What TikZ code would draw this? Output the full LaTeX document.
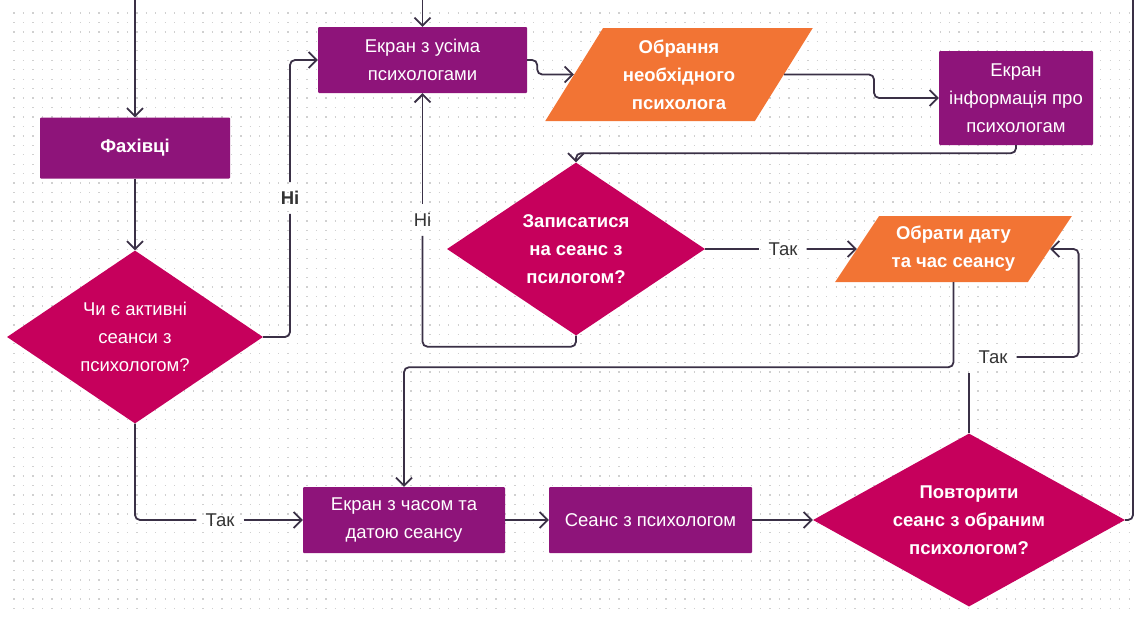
\documentclass[tikz,border=0pt]{standalone}
\usepackage{fontspec}
\setmainfont{Liberation Sans}
\usetikzlibrary{shapes.geometric,arrows.meta}
\definecolor{screen}{RGB}{142,20,122}
\definecolor{question}{RGB}{198,0,92}
\definecolor{choice}{RGB}{242,116,52}
\definecolor{wire}{RGB}{58,48,70}
\definecolor{dotgray}{RGB}{208,208,208}

\begin{document}
\begin{tikzpicture}[x=1pt,y=-1pt,
  txt/.style={font=\fontsize{18.5}{28}\selectfont},
  bold/.style={font=\fontsize{18.5}{28}\selectfont\bfseries},
  screenbox/.style={rectangle, fill=screen, text=white, align=center, inner sep=0pt, rounded corners=1pt, txt},
  qbox/.style={diamond, fill=question, text=white, align=center, inner sep=0pt, bold},
  choicebox/.style={trapezium, trapezium stretches=true, fill=choice, text=white, align=center, inner sep=0pt, bold},
  lbl/.style={inner sep=9pt, text=black!80, txt},
  wireline/.style={draw=wire, line width=1.8pt, rounded corners=5pt},
  arr/.style={wireline, -{Straight Barb[length=8pt,width=16pt]}}]
\useasboundingbox (0,0) rectangle (1135,616);

% dotted background
\foreach \y in {13,22.45,...,612}
\draw[dotgray, line width=1.3pt, dash pattern=on 1.3pt off 8.15pt] (13.4,\y) -- (1135,\y);

% nodes
\node[screenbox, bold, minimum width=190, minimum height=61] (fah) at (135,148) {Фахівці};
\node[qbox, aspect=1.47, minimum width=256, minimum height=173, txt] (d1) at (135,337) {Чи є активні\\сеанси з\\психологом?};
\node[screenbox, minimum width=209, minimum height=66] (ek1) at (422.5,60) {Екран з усіма\\психологами};
\node[choicebox, trapezium left angle=58.5, trapezium right angle=121.5, minimum width=268, minimum height=93] (obr1) at (679,74.5) {Обрання\\необхідного\\психолога};
\node[screenbox, minimum width=154, minimum height=94] (info) at (1016,98) {Екран\\інформація про\\психологам};
\node[qbox, aspect=1.49, minimum width=258, minimum height=173] (d2) at (576,249) {Записатися\\на сеанс з\\псилогом?};
\node[choicebox, trapezium left angle=51.2, trapezium right angle=128.8, minimum width=237, minimum height=66] (obr2) at (953.5,249) {Обрати дату\\та час сеансу};
\node[screenbox, minimum width=202, minimum height=66] (ek2) at (404,520) {Екран з часом та\\датою сеансу};
\node[screenbox, minimum width=203, minimum height=66] (ses) at (650.5,520) {Сеанс з психологом};
\node[qbox, aspect=1.8, minimum width=312, minimum height=173] (d3) at (969,520) {Повторити\\сеанс з обраним\\психологом?};

% labels
\node[lbl, bold] (niA) at (290,198) {Ні};
\node[lbl] (takA) at (220,520) {Так};
\node[lbl] (niB) at (422.5,220) {Ні};
\node[lbl] (takB) at (783,249) {Так};
\node[lbl] (takR) at (993,357) {Так};

\coordinate (inA) at (135,0);
\coordinate (inB) at (422.5,0);
\coordinate (outR) at (1133,0);

% connectors
\draw[arr] (inA) -- (fah.north);
\draw[arr] (inB) -- (ek1.north);
\draw[arr] (fah.south) -- (d1.north);
\draw[wireline] (d1.east) -| (niA.south);
\draw[arr] (niA.north) |- (ek1.west);
\draw[wireline] (d1.south) |- (takA.west);
\draw[arr] (takA.east) -- (ek2.west);
\draw[arr] (ek1.east) -- ++(10,0) |- (obr1.west);
\draw[arr] (obr1.east) -- ++(90,0) |- (info.west);
\draw[arr] (info.south) -- ++(0,8) -| (d2.north);
\draw[wireline] (d2.south) -- ++(0,11) -| (niB.south);
\draw[arr] (niB.north) -- (ek1.south);
\draw[wireline] (d2.east) -- (takB.west);
\draw[arr] (takB.east) -- (obr2.west);
\draw[arr] (obr2.south) -- ++(0,85) -| (ek2.north);
\draw[arr] (ek2.east) -- (ses.west);
\draw[arr] (ses.east) -- (d3.west);
\draw[wireline] (d3.north) -- (d3.north |- takR.south);
\draw[arr] (takR.east) -- ++(62,0) |- (obr2.east);
\draw[wireline] (d3.east) -| (outR);
\end{tikzpicture}
\end{document}
